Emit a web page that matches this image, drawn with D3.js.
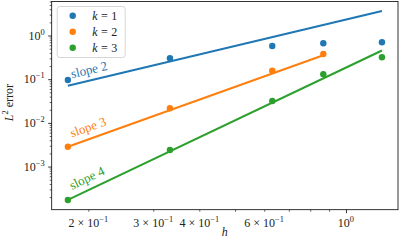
<!DOCTYPE html>
<html>
<head>
<meta charset="utf-8">
<script src="https://cdn.jsdelivr.net/npm/d3@7"></script>
<style>
body{margin:0;background:#fff}
svg{display:block}
text{font-family:"Liberation Serif","Times New Roman",serif}
</style>
</head>
<body>
<svg id="chart" width="400" height="247"></svg>
<script>
const color={k:["#1f77b4","#ff7f0e","#2ca02c"]};

//Data
const kNames=["1","2","3"];
const h_k1=[0.176,0.333,0.631,0.868,1.252];
const err_k1=[0.0959,0.301,0.575,0.663,0.699];
const h_k2=[0.176,0.333,0.631,0.868];
const err_k2=[0.00285,0.0216,0.157,0.377];
const h_k3=[0.176,0.333,0.631,0.868,1.252];
const err_k3=[0.000172,0.0024,0.0317,0.1294,0.317];

//Reference slope lines (end points)
const slopeH=[[0.176,1.252],[0.176,0.868],[0.176,1.252]];
const slopeErr=[[0.0710,3.64],[0.00285,0.352],[0.000172,0.454]];
const slopeText=["slope 2","slope 3","slope 4"];
const slopeTextH=[0.1806,0.1806,0.1806];
const slopeTextErr=[0.105,0.00463,0.000292];

//Tick labels
const xTickVals=[0.2,0.3,0.4,0.6,1];
const xTickMant=["2","3","4","6",""];
const xTickExp=["−1","−1","−1","−1","0"];
const yTickVals=[1e-3,1e-2,1e-1,1];
const yTickExp=["−3","−2","−1","0"];

const hs=[h_k1,h_k2,h_k3];
const errs=[err_k1,err_k2,err_k3];

const svg=d3.select('#chart');

//margins
const margin={top:1.5,left:51.7,right:2,bottom:37.3};
const width=+svg.attr('width');
const height=+svg.attr('height');
const inner_width=width-margin.left-margin.right;
const inner_height=height-margin.top-margin.bottom;

const xScale=d3.scaleLog()
    .domain([0.1591,1.384])
    .range([0,inner_width]);

const yScale=d3.scaleLog()
    .domain([1.03e-4,6.0])
    .range([inner_height,0]);

const g=svg.append('g')
    .attr('transform',`translate(${margin.left},${margin.top})`);

//Minor ticks
const xMinor=[];
for(let d=-1;d<=0;d++)
    for(let m=2;m<=9;m++){
        const v=m*Math.pow(10,d);
        if(v>=xScale.domain()[0] && v<=xScale.domain()[1]) xMinor.push(v);
    }
const yMinor=[];
for(let d=-4;d<=0;d++)
    for(let m=2;m<=9;m++){
        const v=m*Math.pow(10,d);
        if(v>=yScale.domain()[0] && v<=yScale.domain()[1]) yMinor.push(v);
    }

g.append('g')
    .attr('transform',`translate(0,${inner_height})`)
    .call(d3.axisBottom(xScale).tickValues(xMinor).tickSize(2).tickFormat(''))
    .call(a=>a.select('.domain').remove())
    .call(a=>a.selectAll('line').attr('stroke','#000').attr('stroke-width',0.6));
g.append('g')
    .attr('transform',`translate(0,${inner_height})`)
    .call(d3.axisBottom(xScale).tickValues([1]).tickSize(3.5).tickFormat(''))
    .call(a=>a.select('.domain').remove())
    .call(a=>a.selectAll('line').attr('stroke','#000').attr('stroke-width',0.8));

g.append('g')
    .call(d3.axisLeft(yScale).tickValues(yMinor).tickSize(2).tickFormat(''))
    .call(a=>a.select('.domain').remove())
    .call(a=>a.selectAll('line').attr('stroke','#000').attr('stroke-width',0.6));
g.append('g')
    .call(d3.axisLeft(yScale).tickValues(yTickVals).tickSize(3.5).tickFormat(''))
    .call(a=>a.select('.domain').remove())
    .call(a=>a.selectAll('line').attr('stroke','#000').attr('stroke-width',0.8));

//X tick labels
for(let i=0;i<xTickVals.length;i++){
    const t=g.append('text')
        .attr('x',xScale(xTickVals[i]))
        .attr('y',inner_height+17.5)
        .attr('text-anchor','middle')
        .style('font-size','12px')
        .style('fill','#222');
    t.append('tspan').text(xTickMant[i]=="" ? "10" : xTickMant[i]+" × 10");
    t.append('tspan').attr('dy',-5).style('font-size','8.4px').text(xTickExp[i]);
}

//Y tick labels
for(let i=0;i<yTickVals.length;i++){
    const t=g.append('text')
        .attr('x',-7)
        .attr('y',yScale(yTickVals[i])+4.3)
        .attr('text-anchor','end')
        .style('font-size','12px')
        .style('fill','#222');
    t.append('tspan').text("10");
    t.append('tspan').attr('dy',-5).style('font-size','8.4px').text(yTickExp[i]);
}

//Slope lines
const line=d3.line().x(d=>xScale(d[0])).y(d=>yScale(d[1]));
for(let i=0;i<slopeH.length;i++){
    g.append('path')
        .datum(d3.zip(slopeH[i],slopeErr[i]))
        .attr('d',line)
        .attr('fill','none')
        .attr('stroke',color.k[i])
        .attr('stroke-width',2);
}

//Points
for(let i=0;i<hs.length;i++){
    g.append('g').selectAll('circle')
        .data(d3.zip(hs[i],errs[i]))
        .enter().append('circle')
        .attr('cx',d=>xScale(d[0]))
        .attr('cy',d=>yScale(d[1]))
        .attr('r',3.2)
        .style('fill',color.k[i]);
}

//Slope labels, rotated along the line
for(let i=0;i<slopeText.length;i++){
    const dx=xScale(slopeH[i][1])-xScale(slopeH[i][0]);
    const dy=yScale(slopeErr[i][1])-yScale(slopeErr[i][0]);
    const ang=Math.atan2(dy,dx)*180/Math.PI;
    const x=xScale(slopeTextH[i]), y=yScale(slopeTextErr[i]);
    g.append('text')
        .attr('transform',`translate(${x},${y}) rotate(${ang})`)
        .style('font-size','13px')
        .style('fill',color.k[i])
        .text(slopeText[i]);
}

//Frame
g.append('rect')
    .attr('width',inner_width)
    .attr('height',inner_height)
    .attr('fill','none')
    .attr('stroke','#000')
    .attr('stroke-width',0.8);

//Legend
const lg=g.append('g').attr('transform','translate(5.5,5)');
lg.append('rect')
    .attr('width',68)
    .attr('height',51)
    .attr('rx',2.5)
    .attr('fill','#fff')
    .attr('fill-opacity',0.8)
    .attr('stroke','#cccccc')
    .attr('stroke-width',0.8);
for(let i=0;i<kNames.length;i++){
    lg.append('circle')
        .attr('cx',15.5)
        .attr('cy',9.2+16*i)
        .attr('r',3.2)
        .style('fill',color.k[i]);
    const t=lg.append('text')
        .attr('x',35)
        .attr('y',13.4+16*i)
        .style('font-size','12px')
        .style('fill','#222');
    t.append('tspan').style('font-style','italic').text('k');
    t.append('tspan').attr('dx',3.5).text('=');
    t.append('tspan').attr('dx',3.5).text(kNames[i]);
}

//Axis labels
svg.append('text')
    .attr('x',margin.left+inner_width/2)
    .attr('y',235.5)
    .attr('text-anchor','middle')
    .style('font-size','12px')
    .style('font-style','italic')
    .style('fill','#222')
    .text('h');

const yl=svg.append('text')
    .attr('transform',`translate(13,${margin.top+inner_height/2 - 3}) rotate(-90)`)
    .attr('text-anchor','middle')
    .style('font-size','12px')
    .style('fill','#222');
yl.append('tspan').style('font-style','italic').text('L');
yl.append('tspan').attr('dy',-5).style('font-size','8.4px').text('2');
yl.append('tspan').attr('dy',5).text(' error');
</script>
</body>
</html>
